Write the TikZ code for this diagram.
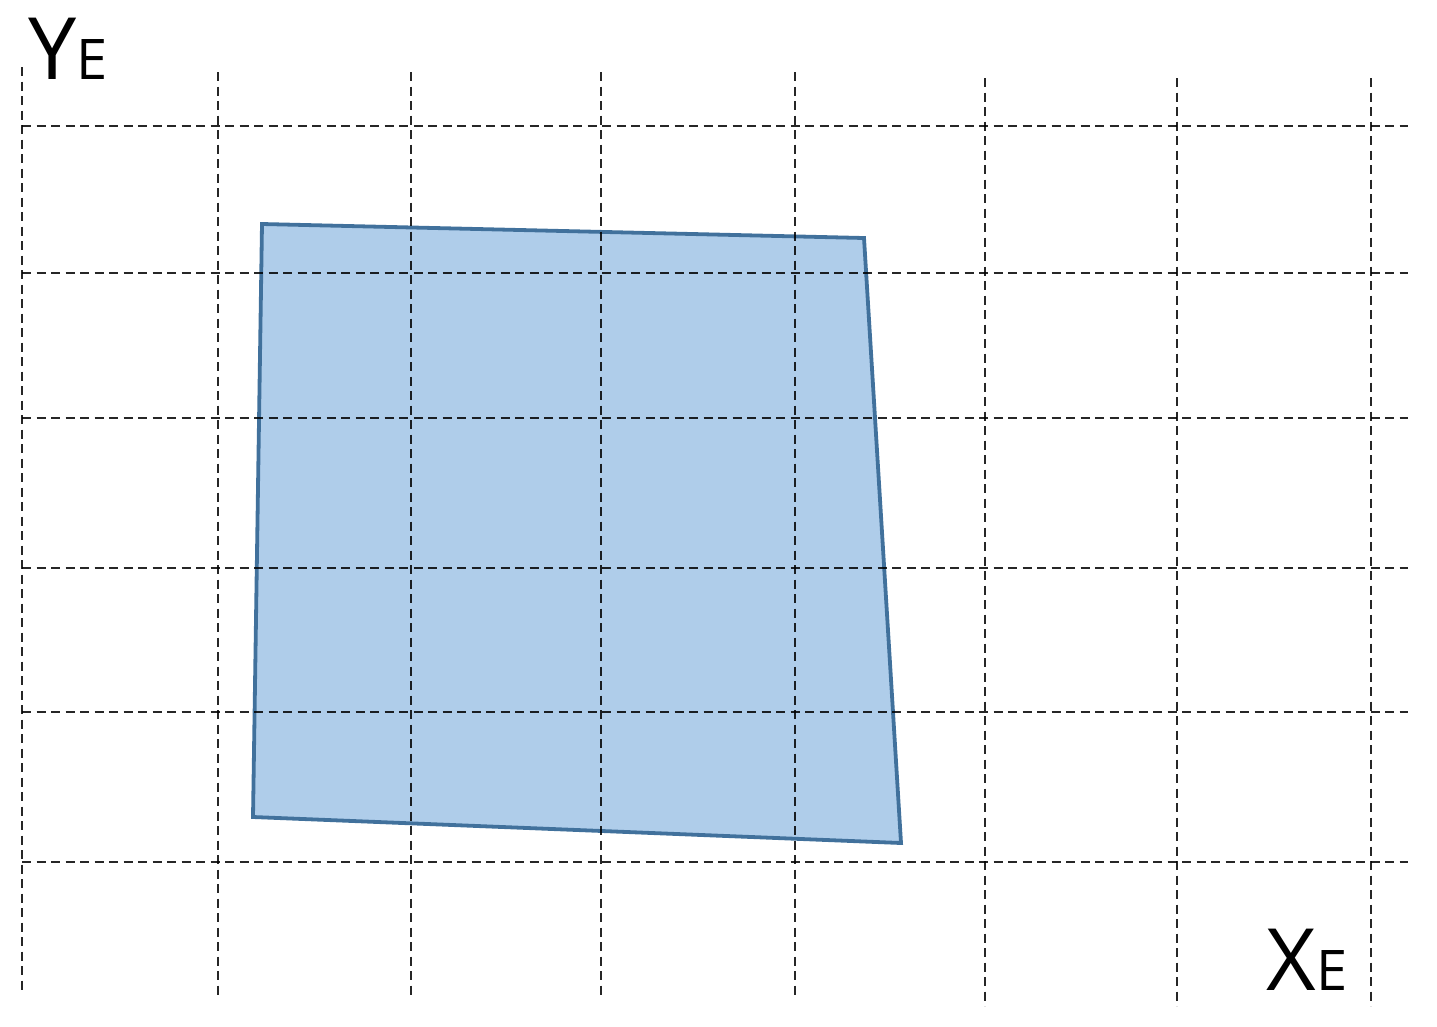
\documentclass[tikz,border=0pt]{standalone}
\usepackage{fontspec}
\setmainfont{Open Sans}
\definecolor{shapefill}{RGB}{175,205,234}
\definecolor{shapeline}{RGB}{65,113,156}
\begin{document}
\begin{tikzpicture}[x=1pt,y=-1pt,
  gridline/.style={draw=black,opacity=0.85,line width=2.4pt,dash pattern=on 9pt off 5.5pt},
  quad/.style={fill=shapefill,draw=shapeline,line width=3.8pt,line join=miter},
  biglab/.style={inner sep=0pt,anchor=base west,font=\fontsize{86}{86}\selectfont},
  sublab/.style={inner sep=0pt,anchor=base west,font=\fontsize{56}{56}\selectfont}]
\useasboundingbox (0,0) rectangle (1437,1026);
% polygon
\coordinate (p1) at (262,224);
\coordinate (p2) at (864,238);
\coordinate (p3) at (901,843);
\coordinate (p4) at (253,817);
\draw[quad] (p1) -- (p2) -- (p3) -- (p4) -- cycle;
% vertical grid lines
\draw[gridline] (22,67) -- (22,993);
\foreach \x in {218,411,601,795}{\draw[gridline] (\x,72) -- (\x,999);}
\foreach \x in {985,1177,1371}{\draw[gridline] (\x,78) -- (\x,1006);}
% horizontal grid lines
\foreach \y in {126,273,418,568,712,862}{\draw[gridline] (22,\y) -- (1408,\y);}
% labels
\node[biglab] (ylab) at (28,79) {Y};
\node[sublab] (ysub) at (ylab.base east) {E};
\node[biglab] (xlab) at (1266,990) {X};
\node[sublab] (xsub) at (xlab.base east) {E};
\end{tikzpicture}
\end{document}
